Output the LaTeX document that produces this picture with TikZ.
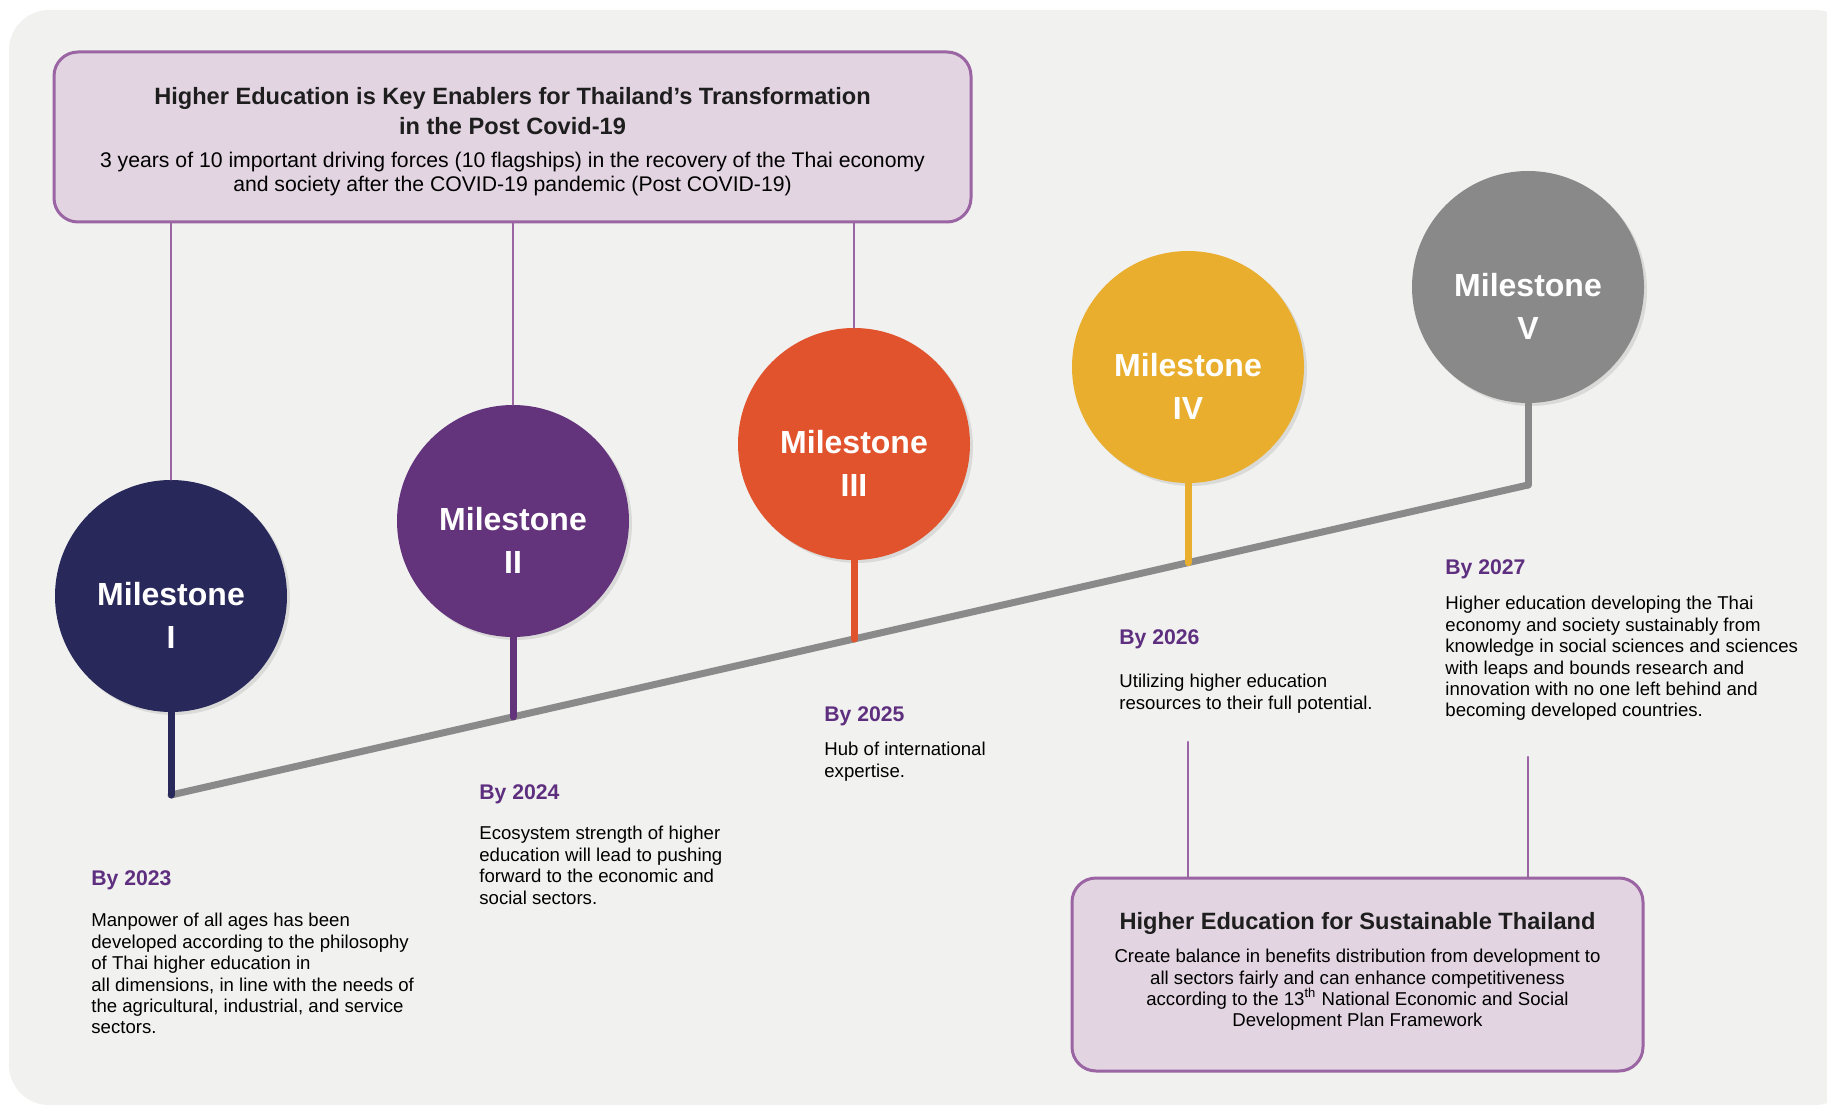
\documentclass[tikz,border=0pt]{standalone}
\usepackage{fontspec}
\setmainfont{Liberation Sans}
\usetikzlibrary{shadows,calc}
\definecolor{panel}{HTML}{F1F1F0}
\definecolor{boxfill}{HTML}{E2D4E1}
\definecolor{boxline}{HTML}{9B65A3}
\definecolor{yearpurple}{HTML}{5F2F7F}
\definecolor{msone}{HTML}{29285B}
\definecolor{mstwo}{HTML}{63337B}
\definecolor{msthree}{HTML}{E0532D}
\definecolor{msfour}{HTML}{E9AE2E}
\definecolor{msfive}{HTML}{898989}
\definecolor{railgray}{HTML}{8A8A8A}
\definecolor{inkgray}{HTML}{1E1E1E}

\begin{document}
\begin{tikzpicture}[x=0.5pt, y=-0.5pt, line cap=round, line join=round,
  panelbox/.style={fill=boxfill, draw=boxline, line width=1.5pt, rounded corners=12pt},
  boxtitle/.style={inner sep=0pt, align=center, text=inkgray, font=\fontsize{11.8}{15}\selectfont\bfseries},
  boxbody/.style={inner sep=0pt, align=center, font=\fontsize{10.6}{12}\selectfont},
  ms/.style={circle, minimum size=116pt, inner sep=0pt,
    drop shadow={shadow xshift=1.5pt, shadow yshift=-1.5pt, opacity=0.2}},
  mslabel/.style={inner sep=0pt, align=center, text=white, font=\fontsize{16}{21.5}\selectfont\bfseries},
  yearlbl/.style={inner sep=0pt, anchor=west, text=yearpurple, font=\fontsize{10.6}{12}\selectfont\bfseries},
  note/.style={inner sep=0pt, anchor=north west, align=left, font=\fontsize{9.3}{10.7}\selectfont},
  link/.style={draw=boxline, line width=1.2pt},
  rail/.style={draw=railgray, line width=3.5pt}]
  \newcommand{\milestone}[5]{%
    % circle, then its two-line label a little below the centre
    \node[ms, fill=#4] (#1) at (#2,#3) {};
    \node[mslabel] (#1txt) at ([yshift=-9.5pt]#1.center) {Milestone\\#5};
  }
  \useasboundingbox (0,0) rectangle (1827,1107);
  % grey panel behind everything
  \fill[panel, rounded corners=20pt] (9,10) rectangle (1855,1105);

  % top box
  \node[panelbox, minimum width=458.5pt, minimum height=85pt] (key) at (512.5,137) {};
  \node[boxtitle] (keyT) at (512.5,111) {Higher Education is Key Enablers for Thailand’s Transformation\\in the Post Covid-19};
  \node[boxbody] (keyB) at (512.5,174) {3 years of 10 important driving forces (10 flagships) in the recovery of the Thai economy\\and society after the COVID-19 pandemic (Post COVID-19)};

  % bottom box
  \node[panelbox, minimum width=285.5pt, minimum height=96.5pt] (goal) at (1357.5,974.5) {};
  \node[boxtitle] (goalT) at (1357.5,923) {Higher Education for Sustainable Thailand};
  \node[boxbody, font=\fontsize{9.3}{10.7}\selectfont] (goalB) at (1357.5,990) {Create balance in benefits distribution from development to\\all sectors fairly and can enhance competitiveness\\according to the 13\textsuperscript{th} National Economic and Social\\Development Plan Framework};

  % milestones
  \milestone{mI}{171}{596}{msone}{I}
  \milestone{mII}{513}{521}{mstwo}{II}
  \milestone{mIII}{854}{444}{msthree}{III}
  \milestone{mIV}{1188}{367}{msfour}{IV}
  \milestone{mV}{1528}{287}{msfive}{V}

  % links to the boxes
  \coordinate (c4) at (1188,742);
  \coordinate (c5) at (1528,757);
  \draw[link] (key.south -| mI.north) -- (mI.north);
  \draw[link] (key.south -| mII.north) -- (mII.north);
  \draw[link] (key.south -| mIII.north) -- (mIII.north);
  \draw[link] (c4) -- (goal.north -| c4);
  \draw[link] (c5) -- (goal.north -| c5);

  % rising rail and stems
  \coordinate (r1) at (171,795);
  \coordinate (r2) at (513,716.9);
  \coordinate (r3) at (854,639);
  \coordinate (r4) at (1188,562.7);
  \coordinate (r5) at (1528,485);
  \draw[rail] (r1) -- (r5);
  \draw[rail, draw=msfive] (mV.south) -- (r5);
  \draw[rail, draw=msfour] (mIV.south) -- (r4);
  \draw[rail, draw=msthree] (mIII.south) -- (r3);
  \draw[rail, draw=mstwo] (mII.south) -- (r2);
  \draw[rail, draw=msone] (mI.south) -- (r1);

  % years and notes
  \node[yearlbl] (y23) at (91,880) {By 2023};
  \node[note] (n23) at (91,913) {Manpower of all ages has been\\developed according to the philosophy\\of Thai higher education in\\all dimensions, in line with the needs of\\the agricultural, industrial, and service\\sectors.};
  \node[yearlbl] (y24) at (479,794) {By 2024};
  \node[note] (n24) at (479,826) {Ecosystem strength of higher\\education will lead to pushing\\forward to the economic and\\social sectors.};
  \node[yearlbl] (y25) at (824,716) {By 2025};
  \node[note] (n25) at (824,742) {Hub of international\\expertise.};
  \node[yearlbl] (y26) at (1119,639) {By 2026};
  \node[note] (n26) at (1119,674) {Utilizing higher education\\resources to their full potential.};
  \node[yearlbl] (y27) at (1445,569) {By 2027};
  \node[note] (n27) at (1445,596) {Higher education developing the Thai\\economy and society sustainably from\\knowledge in social sciences and sciences\\with leaps and bounds research and\\innovation with no one left behind and\\becoming developed countries.};
\end{tikzpicture}
\end{document}
